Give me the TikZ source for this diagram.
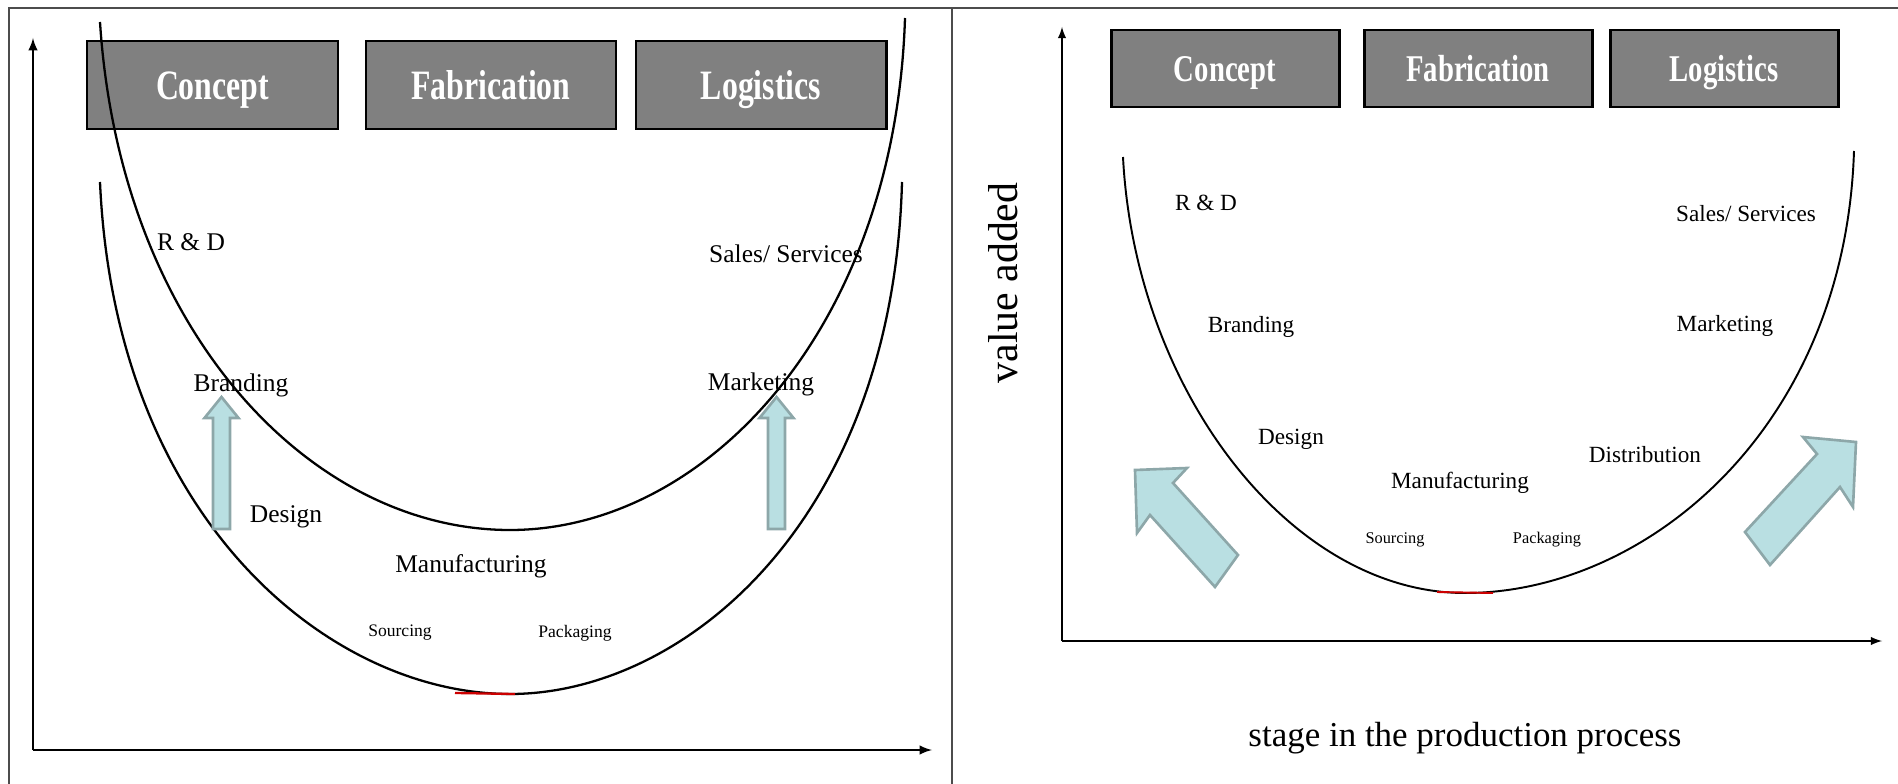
\documentclass[tikz,border=0pt]{standalone}
\usepackage{fontspec}
\setmainfont{Liberation Serif}
\usepackage{graphicx}
\definecolor{boxgray}{HTML}{808080}
\definecolor{arrowfill}{HTML}{B9DFE2}
\definecolor{arrowline}{HTML}{8DA7A9}
\tikzset{
  stagebox/.style={draw=black, line width=1.7pt, fill=boxgray},
  boxtext/.style={text=white, inner sep=0pt, anchor=base, font=\bfseries\fontsize{23.8}{26}\selectfont},
  boxtextR/.style={text=white, inner sep=0pt, anchor=base, font=\bfseries\fontsize{21.5}{24}\selectfont},
  lab/.style={inner sep=0pt, font=\fontsize{14.5}{17}\selectfont},
  labR/.style={inner sep=0pt, font=\fontsize{13.2}{16}\selectfont},
  small/.style={inner sep=0pt, font=\fontsize{10}{12}\selectfont},
  smallR/.style={inner sep=0pt, font=\fontsize{9.3}{11}\selectfont},
  ucurve/.style={line width=1.3pt},
  blockarrow/.style={draw=arrowline, fill=arrowfill, line width=1.5pt, line join=miter},
  frame/.style={draw=black!70, line width=0.6pt}
}
\begin{document}
\begin{tikzpicture}[>=latex, x=0.02cm, y=-0.02cm]
\useasboundingbox (0,0) rectangle (1898,784);
\draw[frame] (9,784)--(9,8)--(1898,8);
\draw[frame] (952,8)--(952,784);

% left panel
\draw[->, line width=1.4pt] (33,750)--(33,38);
\draw[->, line width=1.4pt] (33,750)--(932,750);
\foreach \xa/\xb/\name in {87/338/Concept, 366/616/Fabrication, 636/886/Logistics}
{
    \draw[stagebox] (\xa,41) rectangle (\xb,129);
    \node[boxtext] (box\name L) at ({(\xa+\xb)/2},100) {\scalebox{0.76}[1]{\name}};
}
\draw[ucurve] (100,22) .. controls (120,330) and (310,530) .. (510,530)
  .. controls (705,530) and (895,330) .. (905,18);
\draw[ucurve] (100,182) .. controls (115,520) and (330,694) .. (510,694)
  .. controls (685,694) and (893,520) .. (902,182);
\draw[red!80!black, line width=1.3pt] (455,693)--(515,694);
\foreach \ax in {221.5,776.5}
{
    \draw[blockarrow] (\ax-8.5,529)--(\ax-8.5,418)--(\ax-17,418)--(\ax,397)
      --(\ax+17,418)--(\ax+8.5,418)--(\ax+8.5,529)--cycle;
}
\node[lab] (rdL) at (191,242) {R \& D};
\node[lab] (salesL) at (786,254) {Sales/ Services};
\node[lab] (brandL) at (241,385) {Branding};
\node[lab] (marketL) at (761,384) {Marketing};
\node[lab] (designL) at (286,517) {Design};
\node[lab] (manuL) at (471,566) {Manufacturing};
\node[small] (sourceL) at (400,633) {Sourcing};
\node[small] (packL) at (575,633) {Packaging};

% right panel
\draw[->, line width=1.2pt] (1062,641)--(1062,27);
\draw[->, line width=1.2pt] (1062,641)--(1882,641);
\foreach \xa/\xb/\name in {1111/1339/Concept, 1364/1592/Fabrication, 1610/1838/Logistics}
{
    \draw[stagebox] (\xa,30) rectangle (\xb,107);
    \node[boxtextR] (box\name R) at ({(\xa+\xb)/2},82) {\scalebox{0.76}[1]{\name}};
}
\draw[line width=1.1pt] (1123,157) .. controls (1135,390) and (1290,593) .. (1465,593)
  .. controls (1645,593) and (1845,430) .. (1854,151);
\draw[red!80!black, line width=1.1pt] (1437,592)--(1493,593);
\draw[blockarrow] (1135,470)--(1187,468)--(1173,483)--(1238,555)--(1215,587)
  --(1150,515)--(1137,533)--cycle;
\draw[blockarrow] (1856,442)--(1803,437)--(1817,454)--(1745,532)--(1770,565)
  --(1840,487)--(1853,507)--cycle;
\node[labR] (rdR) at (1206,203) {R \& D};
\node[labR] (salesR) at (1746,214) {Sales/ Services};
\node[labR] (brandR) at (1251,327) {Branding};
\node[labR] (marketR) at (1725,326) {Marketing};
\node[labR] (designR) at (1291,439) {Design};
\node[labR] (distR) at (1645,455) {Distribution};
\node[labR] (manuR) at (1460,483) {Manufacturing};
\node[smallR] (sourceR) at (1395,540) {Sourcing};
\node[smallR] (packR) at (1547,540) {Packaging};
\node[inner sep=0pt, rotate=90, font=\fontsize{23.8}{26}\selectfont] (valueR) at (1003,283) {value added};
\node[inner sep=0pt, font=\fontsize{19.9}{23}\selectfont] (stageR) at (1465,738) {stage in the production process};
\end{tikzpicture}
\end{document}
